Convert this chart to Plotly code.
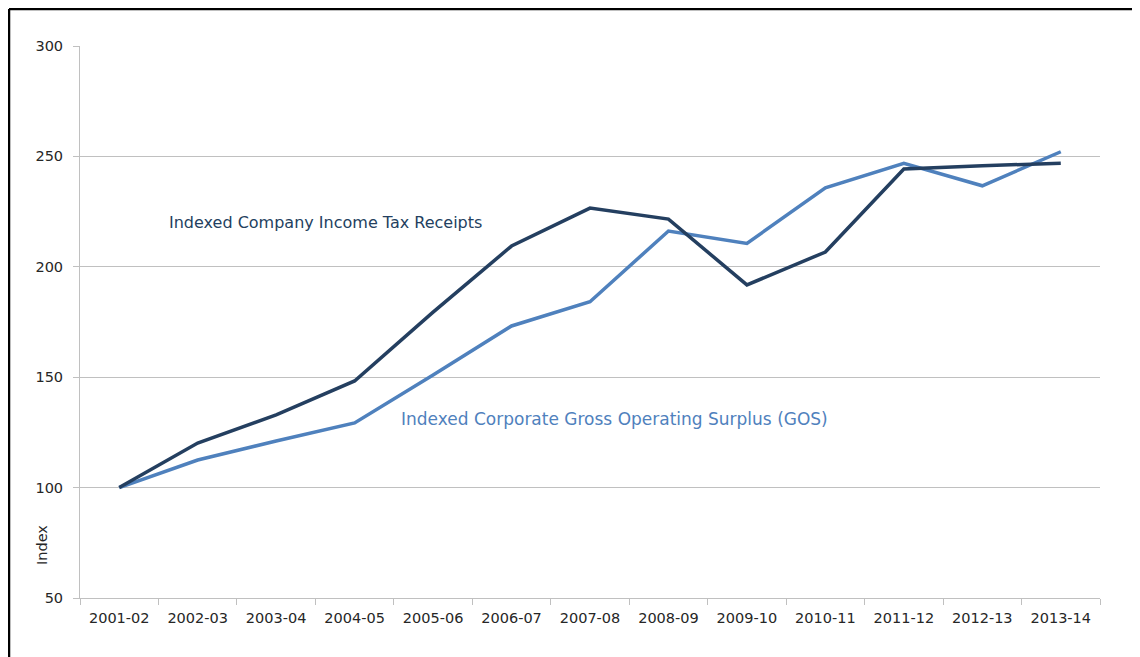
import plotly.graph_objects as go

years = ["2001-02", "2002-03", "2003-04", "2004-05", "2005-06", "2006-07", "2007-08",
         "2008-09", "2009-10", "2010-11", "2011-12", "2012-13", "2013-14"]
tax_receipts = [100, 120.2, 132.9, 148.3, 179.5, 209.4, 226.6, 221.6, 191.8, 206.7, 244.3, 245.8, 246.9]
gos = [100, 112.5, 121.1, 129.3, 151.0, 173.2, 184.2, 216.2, 210.6, 235.8, 246.9, 236.7, 252.1]
y_ticks = [50, 100, 150, 200, 250, 300]

DARK = "#243F60"
LIGHT = "#4F81BD"
GRID = "#C0C0C0"
TXT = "#262626"
FONT = "DejaVu Sans"

fig = go.Figure()
fig.add_trace(go.Scatter(x=years, y=gos, mode="lines", line=dict(color=LIGHT, width=3.5),
                         name="Indexed Corporate Gross Operating Surplus (GOS)"))
fig.add_trace(go.Scatter(x=years, y=tax_receipts, mode="lines", line=dict(color=DARK, width=3.5),
                         name="Indexed Company Income Tax Receipts"))

fig.update_layout(
    width=1132, height=649,
    margin=dict(l=72, r=40, t=38, b=59),
    paper_bgcolor="white", plot_bgcolor="white",
    showlegend=False,
    font=dict(family=FONT, size=14, color=TXT),
    xaxis=dict(
        type="category", range=[-0.5, 12.5], tickson="boundaries", ticks="outside", ticklen=6,
        tickcolor=GRID, showline=True, linecolor=GRID, linewidth=1, showgrid=False,
        ticklabelstandoff=7, tickfont=dict(family=FONT, size=14.5, color=TXT),
    ),
    yaxis=dict(
        range=[50, 300], tickvals=y_ticks, ticks="outside", ticklen=6, tickcolor=GRID,
        showline=True, linecolor=GRID, linewidth=1, showgrid=True, gridcolor=GRID, gridwidth=1,
        zeroline=False, ticklabelstandoff=7, tickfont=dict(family=FONT, size=14.5, color=TXT),
    ),
    annotations=[
        dict(text="Indexed Company Income Tax Receipts", x=0.085, y=0.68, xref="paper", yref="paper",
             xanchor="left", yanchor="middle", showarrow=False, font=dict(family=FONT, size=16, color=DARK)),
        dict(text="Indexed Corporate Gross Operating Surplus (GOS)", x=0.3127, y=0.3243, xref="paper", yref="paper",
             xanchor="left", yanchor="middle", showarrow=False, font=dict(family=FONT, size=17, color=LIGHT)),
        dict(text="Index", x=-0.0373, y=0.096, xref="paper", yref="paper", textangle=-90,
             xanchor="center", yanchor="middle", showarrow=False, font=dict(family=FONT, size=14.5, color=TXT)),
    ],
    shapes=[
        dict(type="line", xref="paper", yref="paper", x0=-0.0696, x1=-0.0696, y0=1.067, y1=-0.2,
             line=dict(color="black", width=2.5)),
        dict(type="line", xref="paper", yref="paper", x0=-0.0696, x1=1.1, y0=1.067, y1=1.067,
             line=dict(color="black", width=2.5)),
    ],
)

fig.write_html("out.html")
